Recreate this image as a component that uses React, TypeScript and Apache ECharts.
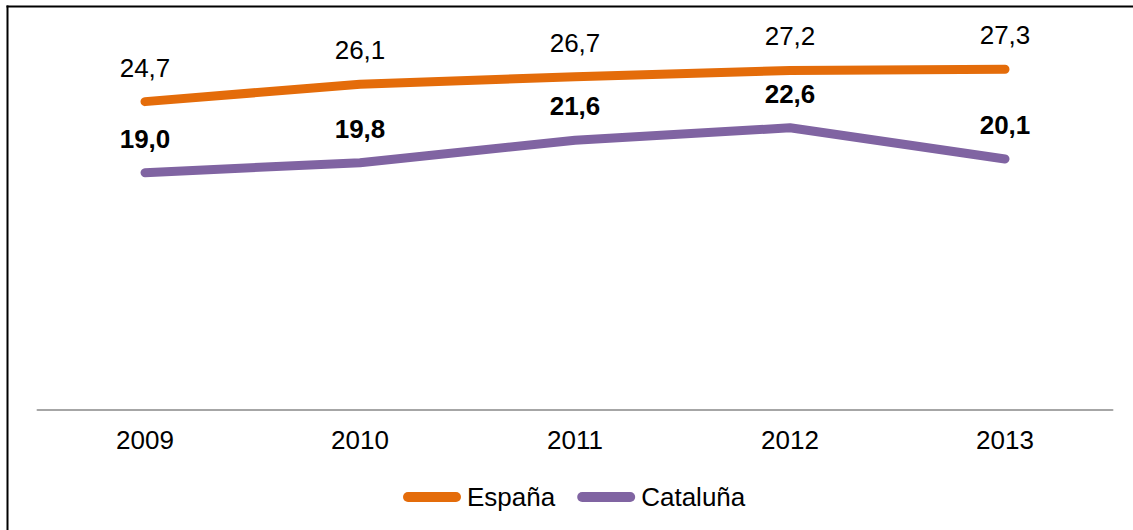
import React, { useEffect, useRef } from "react";
import * as echarts from "echarts";

const years = ["2009", "2010", "2011", "2012", "2013"];
const espana = [24.7, 26.1, 26.7, 27.2, 27.3];
const cataluna = [19.0, 19.8, 21.6, 22.6, 20.1];
const seriesNames = ["España", "Cataluña"];

const fmt = (v: number) => v.toFixed(1).replace(".", ",");
const FONT = "'Liberation Sans', Arial, sans-serif";

export default function App() {
  const ref = useRef<HTMLDivElement>(null);
  useEffect(() => {
    if (!ref.current) return;
    const chart = echarts.init(ref.current, undefined, { renderer: "svg" });
    const capsule =
      "path://M5,0 L53,0 A5,5 0 0 1 53,10 L5,10 A5,5 0 0 1 5,0 Z";
    const mkSeries = (name: string, data: number[], color: string, bold: boolean) => ({
      name,
      type: "line",
      data,
      symbol: "circle",
      symbolSize: 2,
      showSymbol: true,
      itemStyle: { color },
      lineStyle: { color, width: 9, cap: "round", join: "round" },
      label: {
        show: true,
        position: "top",
        distance: 20,
        fontSize: 26,
        fontFamily: FONT,
        fontWeight: bold ? "bold" : "normal",
        color: "#000",
        formatter: (p: any) => fmt(p.value),
      },
    });
    chart.setOption({
      animation: false,
      backgroundColor: "#fff",
      grid: { left: 37.5, right: 20.5, top: 35.6, bottom: 120.6, containLabel: false },
      xAxis: {
        type: "category",
        data: years,
        boundaryGap: true,
        axisLine: { show: true, lineStyle: { color: "#a6a6a6", width: 2 } },
        axisTick: { show: false },
        axisLabel: { fontSize: 26, fontFamily: FONT, color: "#000", margin: 18 },
        splitLine: { show: false },
      },
      yAxis: { type: "value", min: 0, max: 30, show: false, splitLine: { show: false } },
      legend: {
        data: seriesNames,
        left: 398,
        top: 479,
        itemWidth: 60,
        itemHeight: 10,
        itemGap: 22,
        icon: capsule,
        textStyle: { fontSize: 26, fontFamily: FONT, color: "#000" },
      },
      graphic: [
        { type: "line", shape: { x1: 6.5, y1: 6.5, x2: 1133, y2: 6.5 }, style: { stroke: "#000", lineWidth: 2 } },
        { type: "line", shape: { x1: 7.5, y1: 5.5, x2: 7.5, y2: 530 }, style: { stroke: "#000", lineWidth: 2 } },
      ],
      series: [
        mkSeries(seriesNames[0], espana, "#E46C0A", false),
        mkSeries(seriesNames[1], cataluna, "#8064A2", true),
      ],
    });
    return () => chart.dispose();
  }, []);
  return (
    <div
      ref={ref}
      style={{ position: "fixed", left: 0, top: 0, width: 1133, height: 530 }}
    />
  );
}
